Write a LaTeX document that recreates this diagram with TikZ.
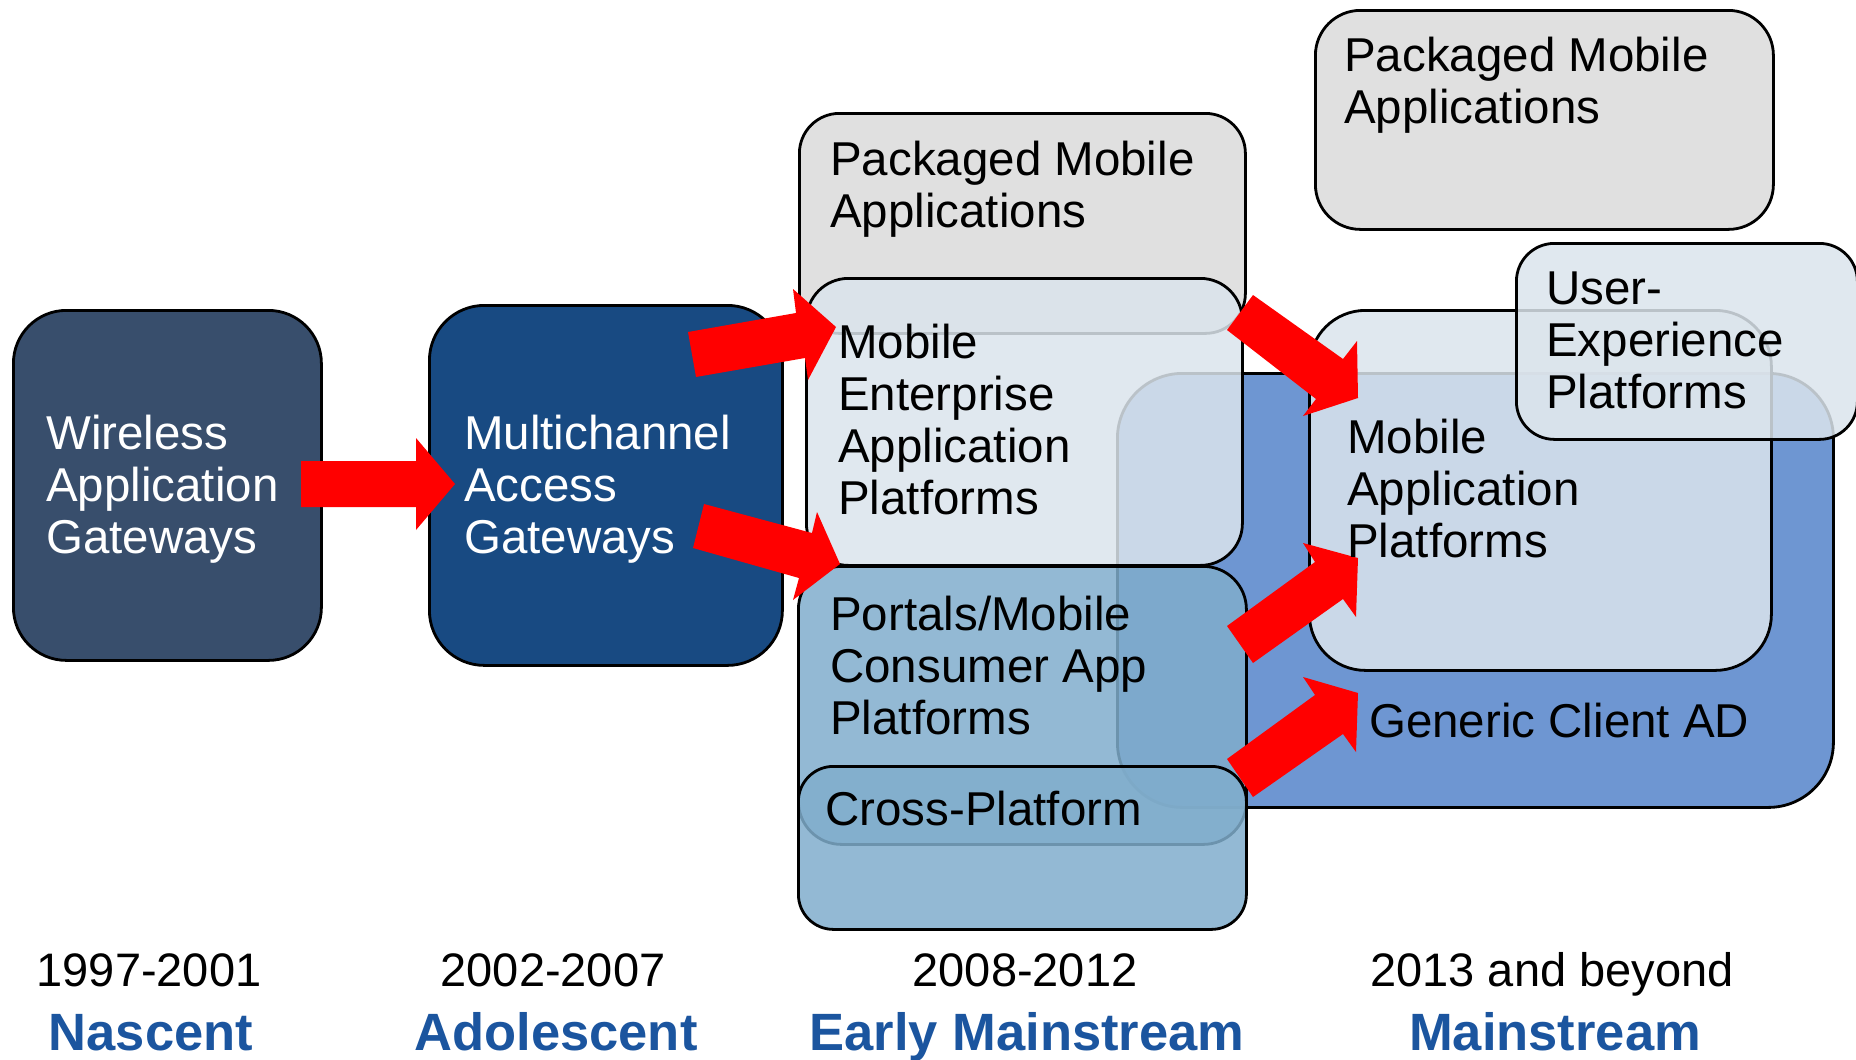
\documentclass[tikz,border=0pt]{standalone}
\usepackage{fontspec}
\setmainfont{Liberation Sans}

\definecolor{wagfill}{HTML}{384E6C}
\definecolor{magfill}{HTML}{184A82}
\definecolor{adfill}{HTML}{6E96D2}
\definecolor{packfill}{HTML}{E0E0E0}
\definecolor{platfill}{HTML}{DBE4EC}
\definecolor{portfill}{HTML}{80ADCC}
\definecolor{arrowred}{HTML}{FF0000}
\definecolor{phaseblue}{HTML}{1B559F}

% multi-line label whose baseline is the first line's baseline
\newcommand\stack[1]{\begin{tabular}[t]{@{}l@{}}#1\end{tabular}}

\tikzset{
  panel/.style={draw=black, line width=2.8pt, inner sep=0pt, anchor=north west},
  solidpanel/.style={panel, fill=#1},
  glasspanel/.style={panel, fill=#1, fill opacity=0.85},
  bodytext/.style={anchor=base west, inner sep=0pt, font=\fontsize{47.5}{52}\selectfont},
  yeartext/.style={anchor=base, inner sep=0pt, font=\fontsize{47}{52}\selectfont},
  phasetext/.style={anchor=base, inner sep=0pt, font=\fontsize{52.5}{60}\selectfont\bfseries, text=phaseblue},
  flowarrow/.style={fill=arrowred, draw=none},
}

\begin{document}
\begin{tikzpicture}[x=1pt,y=-1pt]
\useasboundingbox (0,0) rectangle (1856,1060);

% early gateway generations
\node[solidpanel=wagfill, rounded corners=53pt, minimum width=308pt, minimum height=350pt] (wag) at (12,309) {};
\node[solidpanel=magfill, rounded corners=55pt, minimum width=353pt, minimum height=360pt] (mag) at (428,304) {};

% generic client application development area (lowest layer on the right)
\node[solidpanel=adfill, rounded corners=65pt, minimum width=716pt, minimum height=434pt] (gcad) at (1116,372) {};

% 2008-2012 column
\node[solidpanel=packfill, rounded corners=40pt, minimum width=446pt, minimum height=220pt] (pkga) at (798,112) {};
\node[glasspanel=platfill, rounded corners=42pt, minimum width=436pt, minimum height=287pt] (meap) at (805,277) {};
\node[glasspanel=portfill, rounded corners=43pt, minimum width=448pt, minimum height=278pt] (portals) at (797,565) {};
\node[glasspanel=portfill, rounded corners=35pt, minimum width=448pt, minimum height=163pt] (cross) at (797,765) {};

% 2013 and beyond column
\node[glasspanel=platfill, rounded corners=56pt, minimum width=462pt, minimum height=360pt] (map) at (1308,309) {};
\node[glasspanel=platfill, rounded corners=38pt, minimum width=341pt, minimum height=196pt] (uxp) at (1515,242) {};
\node[solidpanel=packfill, rounded corners=45pt, minimum width=458pt, minimum height=219pt] (pkgb) at (1314,9) {};

% block arrows
\fill[flowarrow] (301,461) -- (416,461) -- (416,438) -- (455,484) -- (416,530) -- (416,507) -- (301,507) -- cycle;
\fill[flowarrow] (688,332) -- (796,313) -- (793,289) -- (836,327) -- (808,380) -- (805,358) -- (696,377) -- cycle;
\fill[flowarrow] (704,504) -- (812,533) -- (817,512) -- (840,564) -- (793,600) -- (799,578) -- (693,548) -- cycle;
\fill[flowarrow] (1253,295) -- (1343,359) -- (1357,341) -- (1358,398) -- (1303,416) -- (1316,399) -- (1227,330) -- cycle;
\fill[flowarrow] (1227,626) -- (1315,562) -- (1303,543) -- (1358,558) -- (1356,617) -- (1343,599) -- (1253,663) -- cycle;
\fill[flowarrow] (1227,759) -- (1315,695) -- (1303,677) -- (1358,693) -- (1356,752) -- (1343,734) -- (1253,797) -- cycle;

% box labels
\node[bodytext, text=white] (wagtext) at (46,449) {\stack{Wireless\\Application\\Gateways}};
\node[bodytext, text=white] (magtext) at (464,449) {\stack{Multichannel\\Access\\Gateways}};
\node[bodytext] (pkgatext) at (830,175) {\stack{Packaged Mobile\\Applications}};
\node[bodytext] (meaptext) at (838,358) {\stack{Mobile\\Enterprise\\Application\\Platforms}};
\node[bodytext] (portaltext) at (830,630) {\stack{Portals/Mobile\\Consumer App\\Platforms}};
\node[bodytext] (crosstext) at (825,825) {Cross-Platform};
\node[bodytext] (maptext) at (1347,453) {\stack{Mobile\\Application\\Platforms}};
\node[bodytext] (uxtext) at (1546,304) {\stack{User-\\Experience\\Platforms}};
\node[bodytext] (gcadtext) at (1369,737) {Generic Client AD};
\node[bodytext] (pkgbtext) at (1344,71) {\stack{Packaged Mobile\\Applications}};

% timeline
\node[yeartext] (y1) at (149,986) {1997-2001};
\node[yeartext] (y2) at (553,986) {2002-2007};
\node[yeartext] (y3) at (1025,986) {2008-2012};
\node[yeartext] (y4) at (1552,986) {2013 and beyond};
\node[phasetext] (p1) at (151,1050) {Nascent};
\node[phasetext] (p2) at (556,1050) {Adolescent};
\node[phasetext] (p3) at (1027,1050) {Early Mainstream};
\node[phasetext] (p4) at (1555,1050) {Mainstream};
\end{tikzpicture}
\end{document}
